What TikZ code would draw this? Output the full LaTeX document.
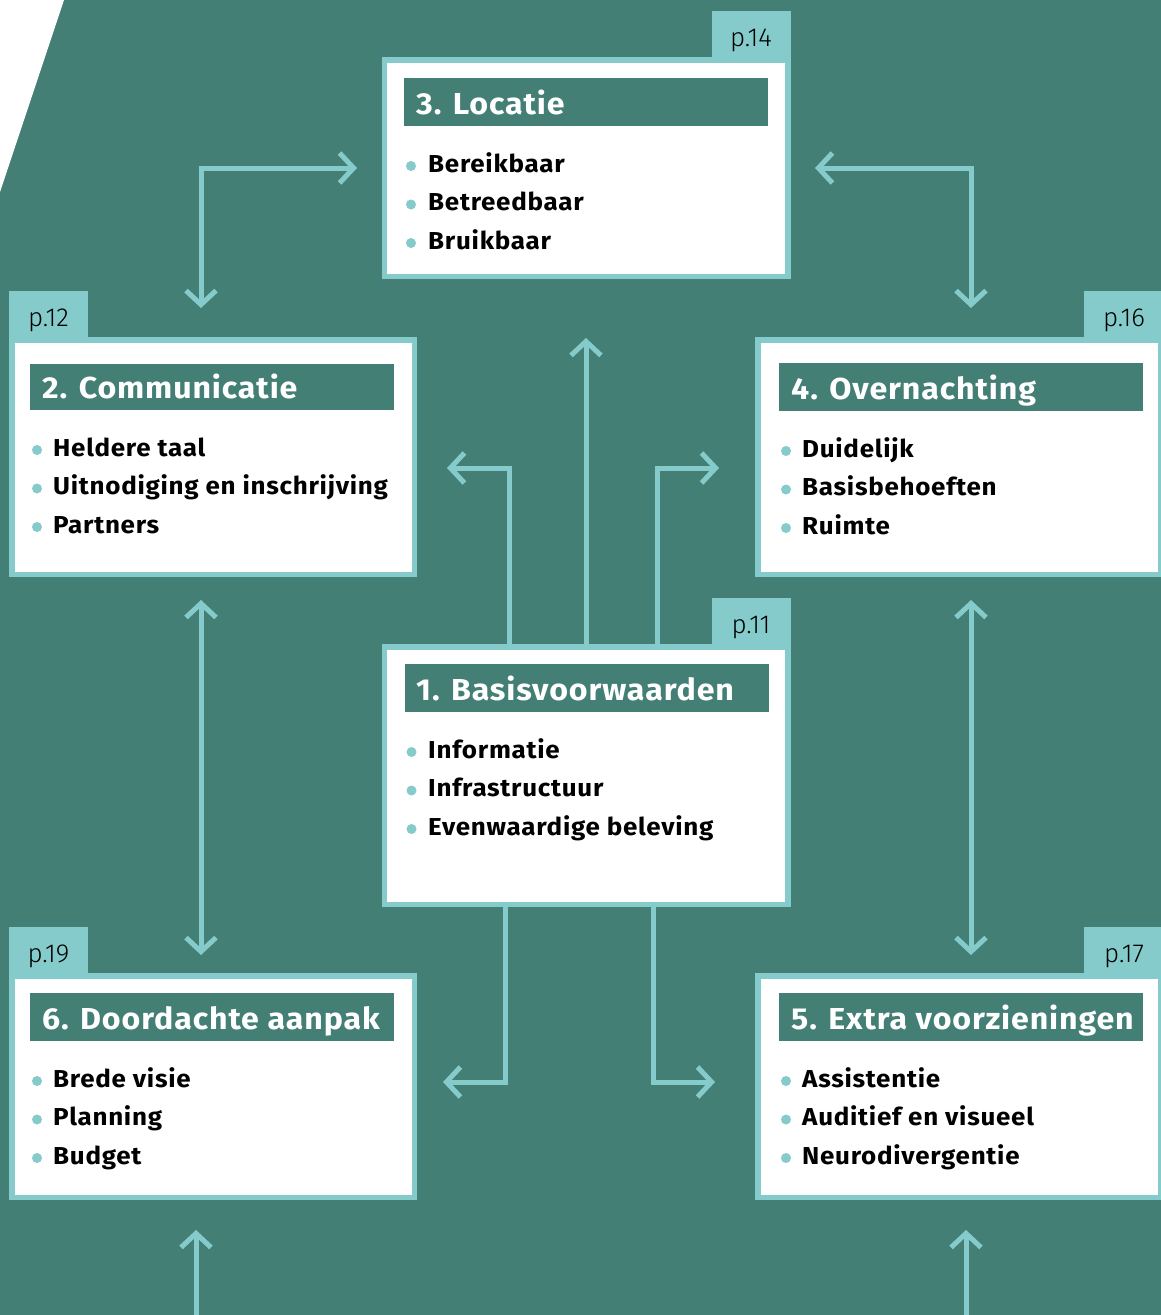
\documentclass[tikz,border=0pt]{standalone}
\usepackage{fontspec}
\setmainfont{Fira Sans}[FakeStretch=1.06, LetterSpace=3]
\newfontfamily\lightfont{Fira Sans Light}
\usetikzlibrary{arrows.meta}
\definecolor{teal1}{HTML}{437F75}
\definecolor{lblue}{HTML}{86CBCB}
\begin{document}
\begin{tikzpicture}[x=1pt,y=-1pt,
 card/.style={draw=lblue, line width=5.5pt, fill=white, inner sep=0pt, outer sep=0pt},
 tab/.style={fill=lblue, inner sep=0pt, outer sep=0pt, anchor=south east, minimum width=79pt, minimum height=46pt},
 bar/.style={fill=teal1, inner sep=0pt, outer sep=0pt, anchor=north west, minimum width=364pt, minimum height=48pt},
 ttl/.style={anchor=base west, inner sep=0pt, text=white, font=\fontsize{30.3}{30.3}\selectfont\bfseries},
 itm/.style={anchor=base west, inner sep=0pt, text=black, font=\fontsize{24.5}{24.5}\selectfont\bfseries},
 pg/.style={anchor=base, inner sep=0pt, text=black, font=\lightfont\fontsize{26}{26}\selectfont},
 dot/.style={circle, fill=lblue, inner sep=0pt, minimum size=10pt},
 arr/.style={draw=lblue, line width=5pt, -{Straight Barb[length=14pt, width=30pt]}},
 arrb/.style={draw=lblue, line width=5pt, {Straight Barb[length=14pt, width=30pt]}-{Straight Barb[length=14pt, width=30pt]}},
]
\useasboundingbox (0,0) rectangle (1161,1315);
\fill[teal1] (0,0) rectangle (1161,1315);
\fill[white] (0,0) -- (64,0) -- (0,192) -- cycle;

% ---------- tabs ----------
\node[tab] (t3) at (790.5,57) {};
\node[pg] (p3) at (751,46) {p.14};
\node[tab] (t2) at (88,337) {};
\node[pg] (p2) at (48.5,326) {p.12};
\node[tab] (t4) at (1163,337) {};
\node[pg] (p4) at (1124,326) {p.16};
\node[tab] (t1) at (790.5,644) {};
\node[pg] (p1) at (751,633) {p.11};
\node[tab] (t6) at (88,973) {};
\node[pg] (p6) at (48.5,962) {p.19};
\node[tab] (t5) at (1163,973) {};
\node[pg] (p5) at (1124,962) {p.17};

% ---------- cards ----------
\node[card, minimum width=403.5pt, minimum height=216.5pt] (b3) at (586,168) {};
\node[card, minimum width=402.5pt, minimum height=234.5pt] (b2) at (213,457) {};
\node[card, minimum width=402.5pt, minimum height=234.5pt] (b4) at (959,457) {};
\node[card, minimum width=403.5pt, minimum height=257.5pt] (b1) at (586,775.5) {};
\node[card, minimum width=402.5pt, minimum height=221.5pt] (b6) at (213,1086.5) {};
\node[card, minimum width=402.5pt, minimum height=221.5pt] (b5) at (959,1086.5) {};

% ---------- box 3 ----------
\node[bar] (h3) at (404,78) {};
\node[ttl] (h3t) at (416,114) {3. Locatie};
\node[dot] (d31) at (411,166) {};
\node[itm] (i31) at (428,172) {Bereikbaar};
\node[dot] (d32) at (411,204.5) {};
\node[itm] (i32) at (428,210.5) {Betreedbaar};
\node[dot] (d33) at (411,243) {};
\node[itm] (i33) at (428,249) {Bruikbaar};

% ---------- box 2 ----------
\node[bar, minimum height=46pt] (h2) at (30,364) {};
\node[ttl] (h2t) at (42,398) {2. Communicatie};
\node[dot] (d21) at (37,450) {};
\node[itm] (i21) at (53,456) {Heldere taal};
\node[dot] (d22) at (37,488.5) {};
\node[itm] (i22) at (53,494.5) {Uitnodiging en inschrijving};
\node[dot] (d23) at (37,527) {};
\node[itm] (i23) at (53,533) {Partners};

% ---------- box 4 ----------
\node[bar] (h4) at (779,363) {};
\node[ttl] (h4t) at (791,399) {4. Overnachting};
\node[dot] (d41) at (786,451) {};
\node[itm] (i41) at (802,457) {Duidelijk};
\node[dot] (d42) at (786,489.5) {};
\node[itm] (i42) at (802,495.5) {Basisbehoeften};
\node[dot] (d43) at (786,528) {};
\node[itm] (i43) at (802,534) {Ruimte};

% ---------- box 1 ----------
\node[bar] (h1) at (404.5,664) {};
\node[ttl] (h1t) at (416,700) {1. Basisvoorwaarden};
\node[dot] (d11) at (411.5,752) {};
\node[itm] (i11) at (428,758) {Informatie};
\node[dot] (d12) at (411.5,790.5) {};
\node[itm] (i12) at (428,796.5) {Infrastructuur};
\node[dot] (d13) at (411.5,829) {};
\node[itm] (i13) at (428,835) {Evenwaardige beleving};

% ---------- box 6 ----------
\node[bar] (h6) at (30,993) {};
\node[ttl] (h6t) at (42,1029) {6. Doordachte aanpak};
\node[dot] (d61) at (37,1081) {};
\node[itm] (i61) at (53,1087) {Brede visie};
\node[dot] (d62) at (37,1119.5) {};
\node[itm] (i62) at (53,1125.5) {Planning};
\node[dot] (d63) at (37,1158) {};
\node[itm] (i63) at (53,1164) {Budget};

% ---------- box 5 ----------
\node[bar] (h5) at (779,993) {};
\node[ttl] (h5t) at (791,1029) {5. Extra voorzieningen};
\node[dot] (d51) at (786,1081) {};
\node[itm] (i51) at (802,1087) {Assistentie};
\node[dot] (d52) at (786,1119.5) {};
\node[itm] (i52) at (802,1125.5) {Auditief en visueel};
\node[dot] (d53) at (786,1158) {};
\node[itm] (i53) at (802,1164) {Neurodivergentie};

% ---------- arrow end points ----------
\coordinate (a3L) at (357,168);
\coordinate (a2T) at (201,308);
\coordinate (a3R) at (815,168);
\coordinate (a4T) at (971,308);
\coordinate (a2B) at (201,600);
\coordinate (a6T) at (201,955);
\coordinate (a4B) at (971,600);
\coordinate (a5T) at (971,955);
\coordinate (cUp) at (586,338);
\coordinate (s1) at (509,646.75);
\coordinate (cL) at (447,468);
\coordinate (s2) at (657,646.75);
\coordinate (cR) at (719,468);
\coordinate (s3) at (505,904.25);
\coordinate (dL) at (443,1082);
\coordinate (s4) at (653,904.25);
\coordinate (dR) at (715,1082);
\coordinate (e6) at (196,1320);
\coordinate (f6) at (196,1230);
\coordinate (e5) at (966,1320);
\coordinate (f5) at (966,1230);

% ---------- arrows ----------
\draw[arrb] (a2T) |- (a3L);
\draw[arrb] (a4T) |- (a3R);
\draw[arrb] (a2B) -- (a6T);
\draw[arrb] (a4B) -- (a5T);
\draw[arr] (b1.north) -- (cUp);
\draw[arr] (s1) |- (cL);
\draw[arr] (s2) |- (cR);
\draw[arr] (s3) |- (dL);
\draw[arr] (s4) |- (dR);
\draw[arr] (e6) -- (f6);
\draw[arr] (e5) -- (f5);
\end{tikzpicture}
\end{document}
